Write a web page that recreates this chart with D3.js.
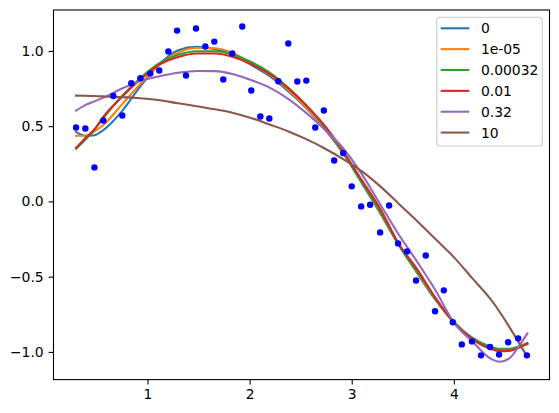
<!DOCTYPE html>
<html>
<meta charset="utf-8">
<style>
  body { margin: 0; background: #fff; }
  text { font-family: "DejaVu Sans", sans-serif; }
</style>
<body>
<div id="chart"></div>
<script src="https://cdn.jsdelivr.net/npm/d3@7"></script>
<script>

// noisy samples
var pointX = [0.300, 0.391, 0.480, 0.567, 0.665, 0.753, 0.841, 0.930, 1.027, 1.115,
              1.204, 1.289, 1.377, 1.475, 1.566, 1.654, 1.742, 1.830, 1.928, 2.016,
              2.105, 2.193, 2.281, 2.379, 2.467, 2.555, 2.643, 2.727, 2.828, 2.916,
              3.000, 3.092, 3.180, 3.278, 3.366, 3.454, 3.542, 3.630, 3.725, 3.816,
              3.902, 3.990, 4.078, 4.178, 4.266, 4.355, 4.443, 4.532, 4.630, 4.716];
var pointY = [0.491, 0.485, 0.226, 0.538, 0.701, 0.571, 0.786, 0.819, 0.850, 0.870,
              0.996, 1.135, 0.837, 1.149, 1.029, 1.062, 0.810, 0.983, 1.162, 0.737,
              0.564, 0.551, 0.799, 1.049, 0.797, 0.803, 0.491, 0.604, 0.272, 0.321,
              0.100, -0.033, -0.022, -0.206, -0.027, -0.279, -0.332, -0.525, -0.359, -0.730,
              -0.591, -0.803, -0.950, -0.930, -1.023, -0.967, -1.018, -0.936, -0.910, -1.023];

// fitted curves, one per alpha, read at fitX
var fitX = [0.30, 0.39, 0.48, 0.57, 0.75, 0.93, 1.12, 1.30, 1.48, 1.66,
            1.84, 2.02, 2.20, 2.38, 2.56, 2.74, 2.92, 3.10, 3.28, 3.46,
            3.64, 3.82, 4.00, 4.18, 4.36, 4.45, 4.54, 4.63, 4.72];
var fitA0 = [0.462, 0.436, 0.440, 0.475, 0.600, 0.765, 0.915, 1.005, 1.027, 1.012,
             0.975, 0.905, 0.830, 0.730, 0.615, 0.475, 0.315, 0.120, -0.080, -0.290,
             -0.475, -0.655, -0.805, -0.905, -0.965, -0.980, -0.980, -0.965, -0.940];
var fitA1 = [0.436, 0.436, 0.465, 0.510, 0.645, 0.780, 0.910, 0.990, 1.020, 1.018,
             0.985, 0.915, 0.840, 0.740, 0.620, 0.480, 0.320, 0.125, -0.075, -0.285,
             -0.470, -0.650, -0.800, -0.910, -0.970, -0.985, -0.985, -0.970, -0.945];
var fitA2 = [0.350, 0.410, 0.475, 0.555, 0.700, 0.820, 0.920, 0.975, 0.998, 0.998,
             0.975, 0.925, 0.855, 0.755, 0.635, 0.490, 0.320, 0.125, -0.070, -0.290,
             -0.465, -0.645, -0.800, -0.910, -0.970, -0.985, -0.985, -0.970, -0.950];
var fitA3 = [0.356, 0.420, 0.480, 0.565, 0.695, 0.810, 0.910, 0.960, 0.983, 0.983,
             0.960, 0.910, 0.845, 0.750, 0.635, 0.500, 0.330, 0.140, -0.050, -0.280,
             -0.450, -0.640, -0.805, -0.915, -0.980, -0.995, -0.993, -0.975, -0.945];
var fitA4 = [0.604, 0.640, 0.665, 0.690, 0.750, 0.800, 0.832, 0.855, 0.867, 0.866,
             0.845, 0.805, 0.755, 0.680, 0.585, 0.475, 0.350, 0.180, -0.020, -0.220,
             -0.400, -0.590, -0.805, -0.930, -1.045, -1.065, -1.045, -0.970, -0.877];
var fitA5 = [0.703, 0.702, 0.700, 0.698, 0.693, 0.685, 0.672, 0.652, 0.633, 0.612,
             0.588, 0.553, 0.510, 0.465, 0.412, 0.350, 0.280, 0.200, 0.100, -0.015,
             -0.130, -0.250, -0.370, -0.510, -0.650, -0.735, -0.830, -0.930, -1.035];

var alphaLabels = ["0", "1e-05", "0.00032", "0.01", "0.32", "10"];
var colors = ["#1f77b4", "#ff7f0e", "#2ca02c", "#d62728", "#9467bd", "#8c564b"];
var fits = [fitA0, fitA1, fitA2, fitA3, fitA4, fitA5];

var xTicks = [1, 2, 3, 4];
var yTicks = [-1.0, -0.5, 0.0, 0.5, 1.0];

// layout
var W = 559, H = 413;
var margin = {top: 10, right: 9.5, bottom: 33.4, left: 53.5},
    width = W - margin.left - margin.right,
    height = H - margin.top - margin.bottom;

var svg = d3.select("#chart")
  .append("svg")
    .attr("width", W)
    .attr("height", H)
  .append("g")
    .attr("transform", "translate(" + margin.left + "," + margin.top + ")");

var x = d3.scaleLinear()
  .domain([0.079, 4.937])
  .range([0, width]);

var y = d3.scaleLinear()
  .domain([-1.184, 1.272])
  .range([height, 0]);

var fmt = d3.format(".1f");

// axes
var xAxis = svg.append("g")
  .attr("transform", "translate(0," + height + ")")
  .call(d3.axisBottom(x).tickValues(xTicks).tickFormat(d3.format("d"))
        .tickSize(4.9).tickPadding(4.9).tickSizeOuter(0));

var yAxis = svg.append("g")
  .call(d3.axisLeft(y).tickValues(yTicks).tickFormat(fmt)
        .tickSize(4.9).tickPadding(4.9).tickSizeOuter(0));

[xAxis, yAxis].forEach(function(a) {
  a.select(".domain").remove();
  a.selectAll(".tick line").attr("stroke", "#000").attr("stroke-width", 1.1);
  a.selectAll(".tick text")
    .attr("fill", "#000")
    .style("font-family", "'DejaVu Sans', sans-serif")
    .style("font-size", "13.9px");
});

// curves
var line = d3.line()
  .x(function(d) { return x(d[0]); })
  .y(function(d) { return y(d[1]); })
  .curve(d3.curveMonotoneX);

fits.forEach(function(f, i) {
  svg.append("path")
    .datum(fitX.map(function(v, j) { return [v, f[j]]; }))
    .attr("fill", "none")
    .attr("stroke", colors[i])
    .attr("stroke-width", 2.08)
    .attr("stroke-linejoin", "round")
    .attr("stroke-linecap", "square")
    .attr("d", line);
});

// points
svg.append("g")
  .selectAll("circle")
  .data(pointX.map(function(v, i) { return [v, pointY[i]]; }))
  .enter()
  .append("circle")
    .attr("cx", function(d) { return x(d[0]); })
    .attr("cy", function(d) { return y(d[1]); })
    .attr("r", 3.2)
    .style("fill", "#0000ff");

// frame
svg.append("rect")
  .attr("x", 0).attr("y", 0)
  .attr("width", width).attr("height", height)
  .attr("fill", "none")
  .attr("stroke", "#000")
  .attr("stroke-width", 1.1);

// legend
var leg = svg.append("g")
  .attr("transform", "translate(" + (436.7 - margin.left) + "," + (17.3 - margin.top) + ")");

leg.append("rect")
  .attr("width", 105.6)
  .attr("height", 128.7)
  .attr("rx", 2.8)
  .attr("fill", "#fff")
  .attr("fill-opacity", 0.8)
  .attr("stroke", "#cccccc")
  .attr("stroke-width", 1.1);

alphaLabels.forEach(function(lab, i) {
  var cy = 11 + i * 20.85;
  leg.append("line")
    .attr("x1", 4).attr("x2", 32.6)
    .attr("y1", cy).attr("y2", cy)
    .attr("stroke", colors[i])
    .attr("stroke-width", 2.08);
  leg.append("text")
    .attr("x", 44.2)
    .attr("y", cy + 5)
    .style("font-size", "13.9px")
    .attr("fill", "#000")
    .text(lab);
});

</script>
</body>
</html>
